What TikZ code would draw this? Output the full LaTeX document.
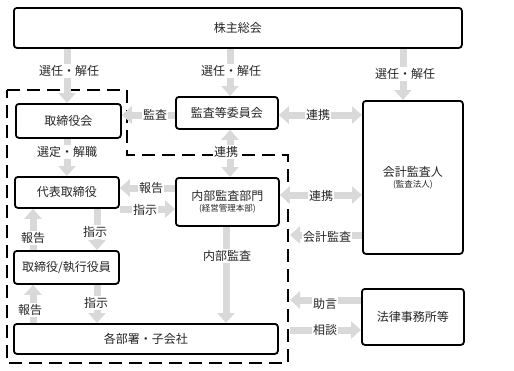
\documentclass[tikz,border=0pt]{standalone}
\usepackage{fontspec}
\setmainfont{Noto Sans CJK JP}
\usetikzlibrary{arrows.meta}
\definecolor{arr}{HTML}{D9D9D9}
\definecolor{txt}{HTML}{262626}
\tikzset{
  box/.style={draw=black, line width=1.8pt, rounded corners=3pt, fill=white, text=txt, font=\fontsize{12}{14}\selectfont},
  garrow/.style={draw=arr, line width=7pt, -{Triangle[width=17pt,length=10pt]}},
  gdarrow/.style={draw=arr, line width=7pt, {Triangle[width=17pt,length=10pt]}-{Triangle[width=17pt,length=10pt]}},
  lbl/.style={fill=white, inner sep=1pt, text=txt, font=\fontsize{12}{14}\selectfont},
  dashbox/.style={draw=black, line width=2.8pt, dash pattern=on 13pt off 7pt},
}
\begin{document}
\begin{tikzpicture}[x=1pt,y=-1pt]
\useasboundingbox (0,0) rectangle (514,370);
% boxes
\node[box, minimum width=448pt, minimum height=40pt, anchor=north west] (kabu) at (13,7) {株主総会};
\node[box, minimum width=105pt, minimum height=34pt, anchor=north west] (tori) at (15,103) {取締役会};
\node[box, minimum width=102pt, minimum height=32pt, anchor=north west] (kansa) at (175,96) {監査等委員会};
\node[box, minimum width=100pt, minimum height=153pt, anchor=north west, align=center] (kaikei) at (362,100) {会計監査人\\[-3pt]{\fontsize{8.5}{10}\selectfont (監査法人)}};
\node[box, minimum width=104pt, minimum height=31pt, anchor=north west] (daihyo) at (14,176) {代表取締役};
\node[box, minimum width=103pt, minimum height=48pt, anchor=north west, align=center] (naibu) at (175,177) {内部監査部門\\[-3pt]{\fontsize{8.5}{10}\selectfont (経営管理本部)}};
\node[box, minimum width=105pt, minimum height=33pt, anchor=north west] (shikko) at (13,250) {取締役/執行役員};
\node[box, minimum width=264pt, minimum height=30pt, anchor=north west] (kakubu) at (13,323) {各部署・子会社};
\node[box, minimum width=102pt, minimum height=56pt, anchor=north west] (houritsu) at (361,288) {法律事務所等};
% coordinates for free ends
\coordinate (kaikeiL) at (290,235);
\coordinate (jogenL) at (290,300);
\coordinate (sodanL) at (290,330);
% dashed region
\draw[dashbox] (7,90) -- (127,90) -- (127,155) -- (288,155) -- (288,363) -- (7,363) -- cycle;
% arrows
\draw[garrow] (kabu.south -| 67,0) -- (tori.north -| 67,0);
\draw[garrow] (kabu.south -| 230,0) -- (kansa.north -| 230,0);
\draw[garrow] (kabu.south -| 403,0) -- (kaikei.north -| 403,0);
\draw[garrow] (kansa.west |- 0,115) -- (tori.east |- 0,115);
\draw[gdarrow] (kansa.east |- 0,115) -- (kaikei.west |- 0,115);
\draw[garrow] (tori.south -| 67,0) -- (daihyo.north -| 67,0);
\draw[gdarrow] (kansa.south -| 230,0) -- (naibu.north -| 230,0);
\draw[garrow] (naibu.west |- 0,188) -- (daihyo.east |- 0,188);
\draw[garrow] (daihyo.east |- 0,209) -- (naibu.west |- 0,209);
\draw[gdarrow] (naibu.east |- 0,195) -- (kaikei.west |- 0,195);
\draw[garrow] (kaikei.west |- kaikeiL) -- (kaikeiL);
\draw[garrow] (daihyo.south -| 97,0) -- (shikko.north -| 97,0);
\draw[garrow] (shikko.north -| 33,0) -- (daihyo.south -| 33,0);
\draw[garrow] (shikko.south -| 97,0) -- (kakubu.north -| 97,0);
\draw[garrow] (kakubu.north -| 33,0) -- (shikko.south -| 33,0);
\draw[garrow] (naibu.south -| 226,0) -- (kakubu.north -| 226,0);
\draw[garrow] (houritsu.west |- jogenL) -- (jogenL);
\draw[garrow] (sodanL) -- (houritsu.west |- sodanL);
% labels
\node[lbl] (l1) at (69,71) {選任・解任};
\node[lbl] (l2) at (231,71) {選任・解任};
\node[lbl] (l3) at (405,74) {選任・解任};
\node[lbl] (l4) at (155,115) {監査};
\node[lbl] (l5) at (318,115) {連携};
\node[lbl] (l6) at (67,152) {選定・解職};
\node[lbl] (l7) at (226,152) {連携};
\node[lbl] (l8) at (151,188) {報告};
\node[lbl] (l9) at (145,210) {指示};
\node[lbl] (l10) at (321,196) {連携};
\node[lbl] (l11) at (327,237) {会計監査};
\node[lbl] (l12) at (95,232) {指示};
\node[lbl] (l13) at (33,238) {報告};
\node[lbl] (l14) at (227,256) {内部監査};
\node[lbl] (l15) at (96,303) {指示};
\node[lbl] (l16) at (30,310) {報告};
\node[lbl] (l17) at (325,304) {助言};
\node[lbl] (l18) at (325,330) {相談};
\end{tikzpicture}
\end{document}
